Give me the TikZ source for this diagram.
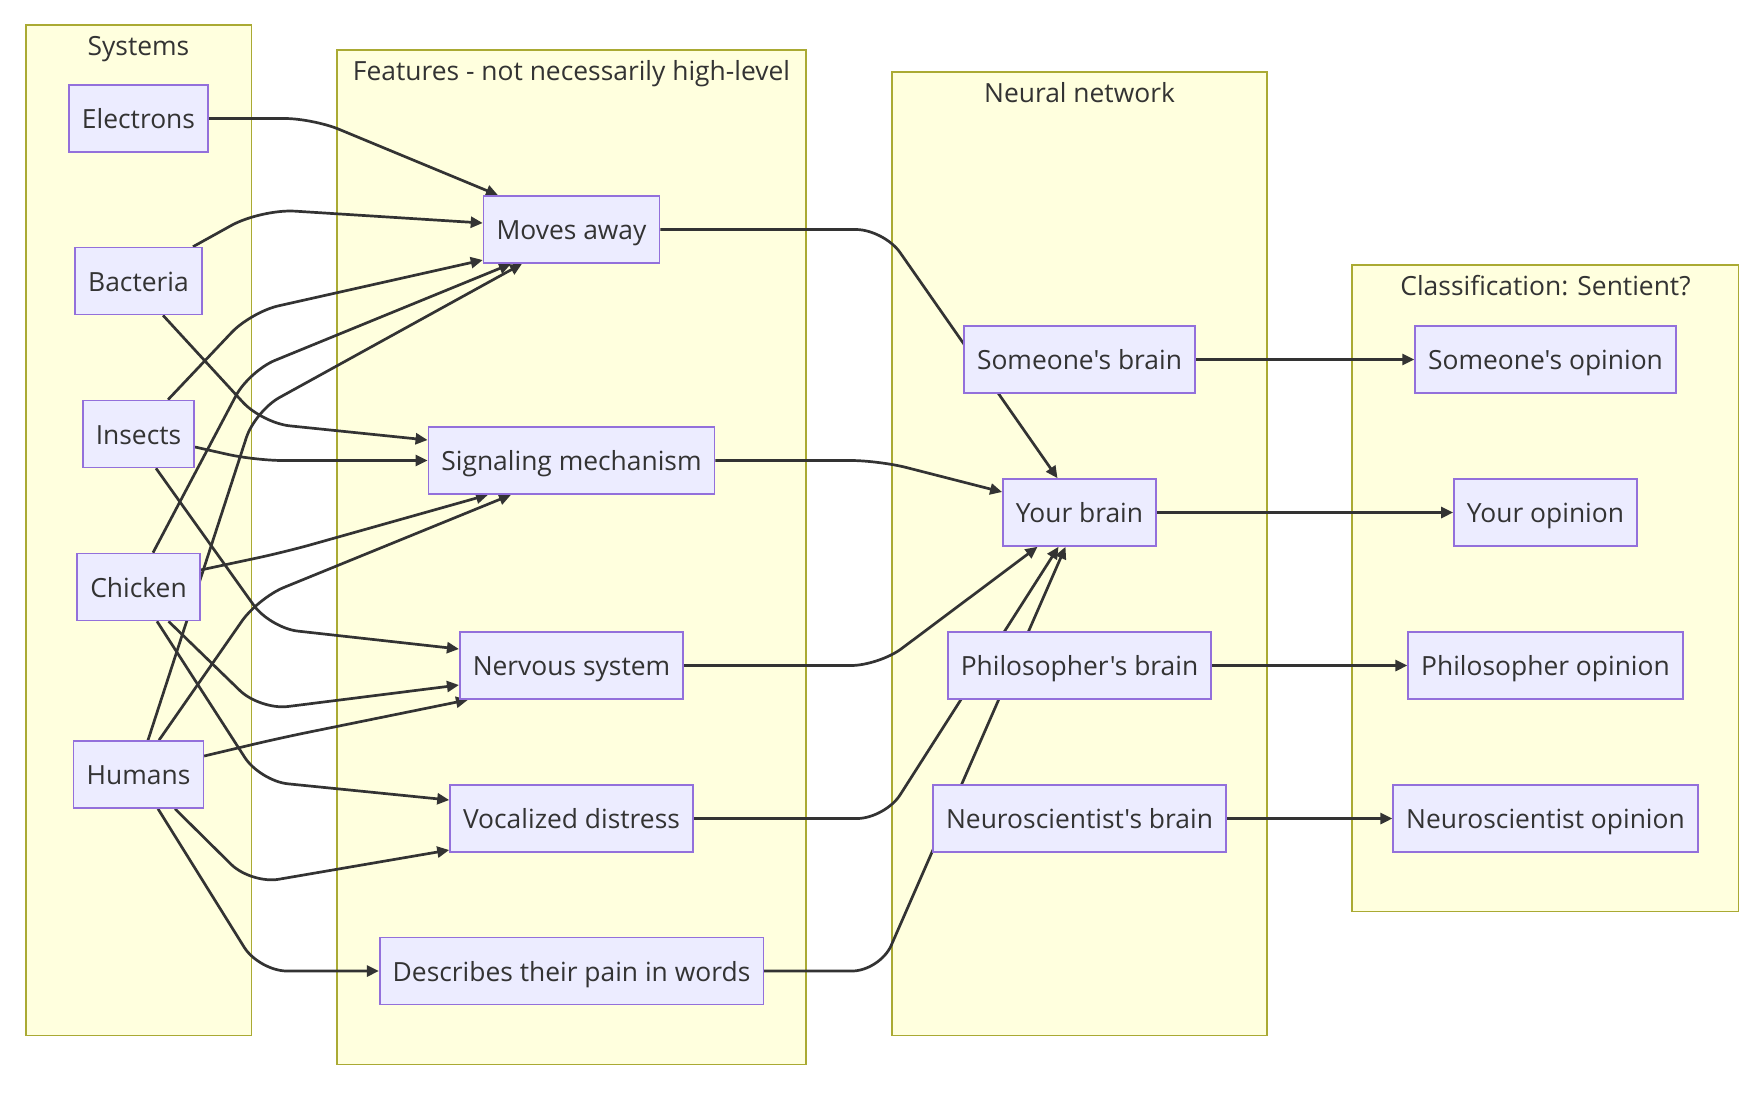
\documentclass[tikz,border=0pt]{standalone}
\usepackage{fontspec}
\setmainfont{Open Sans}[Ligatures=TeXOff]
\usetikzlibrary{arrows.meta,calc}
\definecolor{clusfill}{HTML}{FFFFDE}
\definecolor{clusline}{HTML}{AAAA33}
\definecolor{boxfill}{HTML}{ECECFF}
\definecolor{boxline}{HTML}{9370DB}
\definecolor{ink}{HTML}{333333}
\pgfdeclarelayer{bg}
\pgfdeclarelayer{edges}
\pgfsetlayers{bg,edges,main}
\tikzset{
  cluster/.style={draw=clusline,fill=clusfill,line width=0.7pt},
  clabel/.style={anchor=base,text=ink,font=\fontsize{13.2}{16}\selectfont},
  box/.style={draw=boxline,fill=boxfill,line width=0.8pt,text=ink,
    font=\fontsize{13.2}{16}\selectfont,inner xsep=6.5pt,inner ysep=0pt,
    minimum height=33.5pt,text height=12.5pt,text depth=2.5pt},
  link/.style={->,draw=ink,line width=1.35pt,rounded corners=14pt}
}
\begin{document}
\begin{tikzpicture}[x=0.5pt,y=-0.5pt,>={Triangle[length=6pt,width=5.5pt]}]
\useasboundingbox (0,0) rectangle (1762,1100);
% subgraphs
\begin{pgfonlayer}{bg}
\fill[white] (0,0) rectangle (1762,1100);
\draw[cluster] (26,25) rectangle (251.5,1035.5);
\draw[cluster] (337,50) rectangle (806,1064.5);
\draw[cluster] (892,72) rectangle (1267,1035.5);
\draw[cluster] (1352,265) rectangle (1738.5,911.5);
\end{pgfonlayer}
\node[clabel] (tsys) at (138.5,55) {Systems};
\node[clabel] (tfea) at (571.5,80) {Features - not necessarily high-level};
\node[clabel] (tnet) at (1079.5,102) {Neural network};
\node[clabel] (tcla) at (1545.5,295) {Classification: Sentient?};
% systems
\node[box] (ele) at (138.5,118.5) {Electrons};
\node[box] (bac) at (138.5,281) {Bacteria};
\node[box] (ins) at (138.5,434) {Insects};
\node[box] (chi) at (138.5,587) {Chicken};
\node[box] (hum) at (138.5,774.5) {Humans};
% features
\node[box] (mov) at (571.5,229.5) {Moves away};
\node[box] (sig) at (571.5,460.5) {Signaling mechanism};
\node[box] (ner) at (571.5,665.5) {Nervous system};
\node[box] (voc) at (571.5,818.5) {Vocalized distress};
\node[box] (des) at (571.5,971) {Describes their pain in words};
% neural network
\node[box] (sbr) at (1079.5,359.5) {Someone's brain};
\node[box] (ybr) at (1079.5,512.5) {Your brain};
\node[box] (pbr) at (1079.5,665.5) {Philosopher's brain};
\node[box] (nbr) at (1079.5,818.5) {Neuroscientist's brain};
% classification
\node[box] (sop) at (1545.5,359.5) {Someone's opinion};
\node[box] (yop) at (1545.5,512.5) {Your opinion};
\node[box] (pop) at (1545.5,665.5) {Philosopher opinion};
\node[box] (nop) at (1545.5,818.5) {Neuroscientist opinion};
\begin{pgfonlayer}{edges}
% systems -> features
\draw[link] (ele.east) -- (313,118.5) -- ($(mov.north)+(-73.5,0)$);
\draw[link,rounded corners=17pt] ($(bac.north)+(54.5,0)$) -- (261,209) -- ($(mov.west)+(0,-6.5)$);
\draw[link] ($(bac.south)+(24.5,0)$) -- (262,423) -- ($(sig.west)+(0,-20.5)$);
\draw[link] ($(ins.north)+(29.5,0)$) -- (251,312) -- ($(mov.west)+(0,30.5)$);
\draw[link] ($(ins.east)+(0,13)$) -- (255,460.5) -- (sig.west);
\draw[link] ($(ins.south)+(17.5,0)$) -- (270,628) -- ($(ner.west)+(0,-16.5)$);
\draw[link] ($(chi.north)+(14.5,0)$) -- (249,371) -- ($(mov.south)+(-60.5,0)$);
\draw[link] ($(chi.east)+(0,-17)$) -- (285,552) -- ($(sig.south)+(-83.5,0)$);
\draw[link] ($(chi.south)+(30,0)$) -- (260,710) -- ($(ner.west)+(0,19.5)$);
\draw[link] ($(chi.south)+(18.5,0)$) -- (260,781) -- ($(voc.west)+(0,-18.5)$);
\draw[link] ($(hum.north)+(9.5,0)$) -- (255,411) -- ($(mov.south)+(-49.5,0)$);
\draw[link] ($(hum.north)+(20.5,0)$) -- (258,598) -- ($(sig.south)+(-60.5,0)$);
\draw[link] ($(hum.east)+(0,-18.5)$) -- (280,738) -- ($(ner.south)+(-103.5,0)$);
\draw[link] ($(hum.south)+(36.5,0)$) -- (251,884) -- ($(voc.west)+(0,31.5)$);
\draw[link] ($(hum.south)+(19.5,0)$) -- (259,971) -- (des.west);
% features -> neural network
\draw[link] (mov.east) -- (884,229.5) -- ($(ybr.north)+(-22,0)$);
\draw[link] (sig.east) -- (879,460.5) -- ($(ybr.west)+(0,-20.5)$);
\draw[link] (ner.east) -- (879,665.5) -- ($(ybr.south)+(-42,0)$);
\draw[link] (voc.east) -- (885,818.5) -- ($(ybr.south)+(-21,0)$);
\draw[link] (des.east) -- (880,971) -- ($(ybr.south)+(-14,0)$);
% neural network -> classification
\draw[link] (sbr) -- (sop);
\draw[link] (ybr) -- (yop);
\draw[link] (pbr) -- (pop);
\draw[link] (nbr) -- (nop);
\end{pgfonlayer}
\end{tikzpicture}
\end{document}
